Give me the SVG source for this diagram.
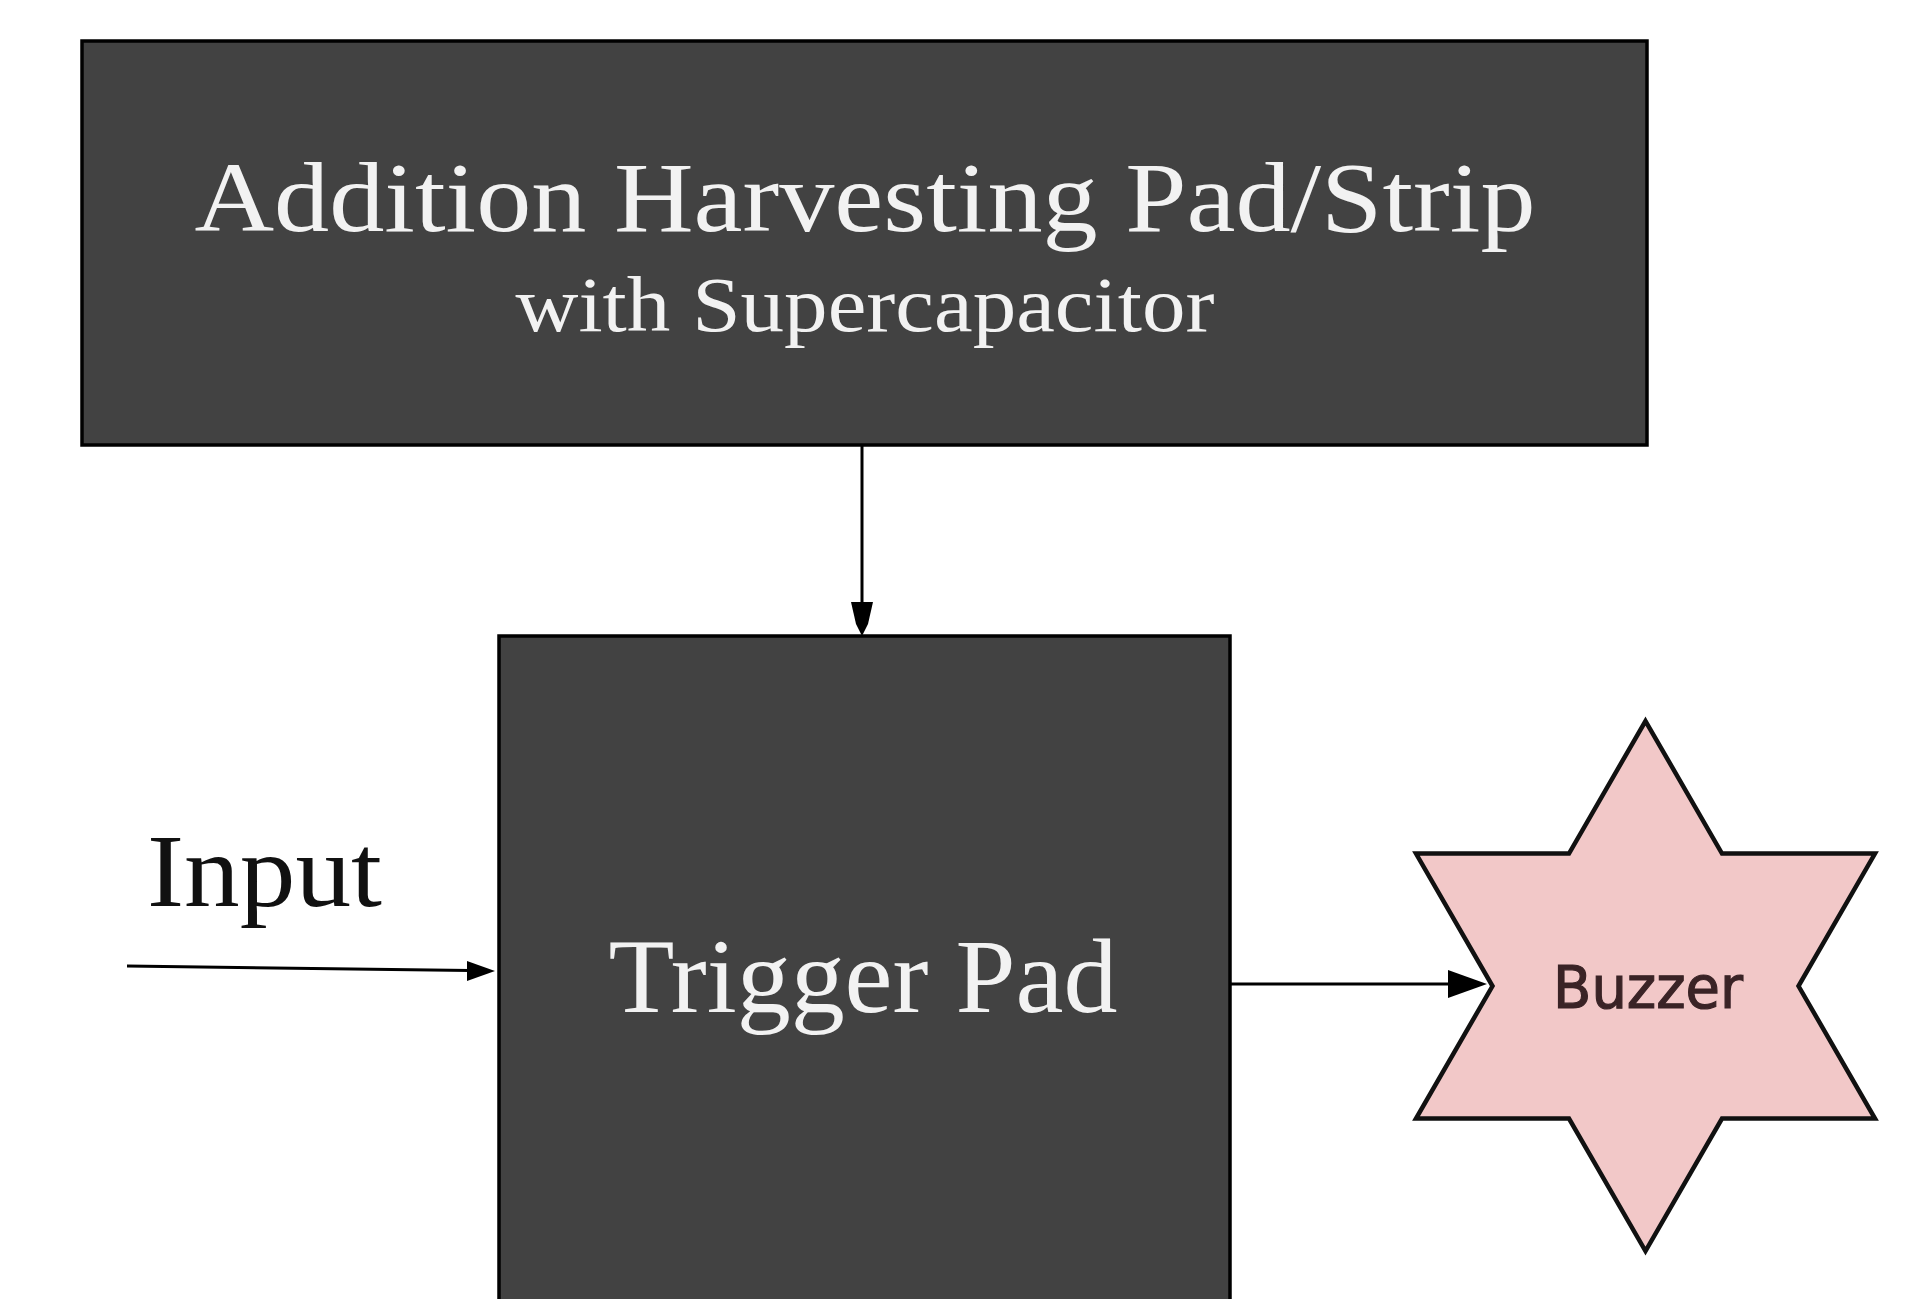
<svg xmlns="http://www.w3.org/2000/svg" width="1908" height="1299" viewBox="0 0 1908 1299">
<style>
.box{fill:#424242;stroke:#000;stroke-width:3.5}
.wt{fill:#f2f2f2;font-family:"Liberation Serif","DejaVu Serif",serif;text-anchor:middle}
.ln{stroke:#000;stroke-width:3;fill:none}
.hd{fill:#000}
</style>
<rect width="1908" height="1299" fill="#fff"/>
<g id="harvesting-pad">
<rect class="box" x="82" y="41" width="1565" height="404"/>
<text class="wt" x="865" y="231" font-size="100" textLength="1341" lengthAdjust="spacingAndGlyphs">Addition Harvesting Pad/Strip</text>
<text class="wt" x="865" y="331" font-size="78" textLength="699" lengthAdjust="spacingAndGlyphs">with Supercapacitor</text>
</g>
<g id="trigger-pad">
<rect class="box" x="499" y="636" width="731" height="680"/>
<text class="wt" x="863" y="1012" font-size="105" textLength="509" lengthAdjust="spacingAndGlyphs">Trigger Pad</text>
</g>
<g id="input-label">
<text x="147" y="906" font-size="104" fill="#111" font-family="Liberation Serif,DejaVu Serif,serif" textLength="235" lengthAdjust="spacingAndGlyphs">Input</text>
</g>
<g id="buzzer">
<polygon points="1645.5,721 1722,853.5 1875,853.5 1798.5,986 1875,1118.5 1722,1118.5 1645.5,1251 1569,1118.5 1416,1118.5 1492.5,986 1416,853.5 1569,853.5" fill="#f2c8c8" stroke="#111" stroke-width="4.5" stroke-linejoin="miter"/>
<text x="1648" y="1008" font-size="58" fill="#3a2326" stroke="#3a2326" stroke-width="1.2" font-family="DejaVu Sans,Verdana,sans-serif" text-anchor="middle" textLength="190" lengthAdjust="spacingAndGlyphs">Buzzer</text>
</g>
<g id="connectors">
<line class="ln" x1="862" y1="445" x2="862" y2="608"/>
<polygon class="hd" points="851,602 873,602 868,624 862,636 856,624"/>
<line class="ln" x1="127" y1="966" x2="470" y2="970.5"/>
<polygon class="hd" points="467,961 495,971 467,981"/>
<line class="ln" x1="1230" y1="984" x2="1455" y2="984"/>
<polygon class="hd" points="1448,970 1487,984 1448,998"/>
</g>
</svg>
